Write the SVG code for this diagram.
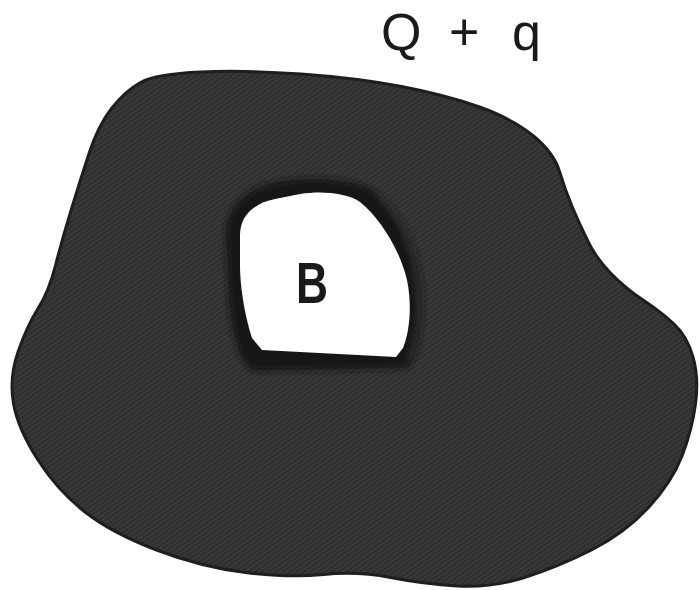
<svg xmlns="http://www.w3.org/2000/svg" width="700" height="590" viewBox="0 0 700 590">
<style>
.lbl{font-family:"Liberation Sans","DejaVu Sans",Arial,sans-serif;fill:#1a1a1a}
</style>
<defs>
<pattern id="tex" width="4" height="4" patternUnits="userSpaceOnUse" patternTransform="rotate(55)">
<rect width="4" height="4" fill="#2f2f2f"/>
<rect width="1.4" height="4" fill="#3c3c3c"/>
</pattern>
<filter id="soft" x="-20%" y="-20%" width="140%" height="140%">
<feGaussianBlur stdDeviation="3"/>
</filter>
</defs>
<rect width="700" height="590" fill="#ffffff"/>
<g id="conductor">
<path d="M 111.5,108.5 Q 125,91 140.5,82.5 Q 156,74 200.5,72 Q 245,70 301,74 Q 357,78 401.5,86.5 Q 446,95 479.5,107 Q 513,119 533.5,136 Q 554,153 559.5,171.5 Q 565,190 572.5,207.5 Q 580,225 588,241.5 Q 596,258 610.5,273 Q 625,288 643,300 Q 661,312 674,324 Q 687,336 693,357 Q 699,378 695.5,404 Q 692,430 682,456 Q 672,482 648.5,507.5 Q 625,533 591.5,550 Q 558,567 524.5,577.5 Q 491,588 457.5,586 Q 424,584 390.5,577.5 Q 357,571 323.5,574.5 Q 290,578 245.5,572.5 Q 201,567 156.5,550 Q 112,533 85,512 Q 58,491 38,460 Q 18,429 13.5,403.5 Q 9,378 18,352 Q 27,326 38,308.5 Q 49,291 55.5,265.5 Q 62,240 71,210.5 Q 80,181 89,153.5 Q 98,126 111.5,108.5 Z" fill="url(#tex)" stroke="#1e1e1e" stroke-width="3"/>
</g>
<g id="cavity">
<path d="M 226,235 C 226,205 248,188 278,182 C 312,176 350,178 372,190 C 402,210 418,250 421,285 C 424,318 421,348 409,368 L 252,371 C 238,360 233,335 229,300 Z" fill="#141414" filter="url(#soft)"/>
<path d="M 378,196 C 402,218 416,252 418,290 C 420,320 416,345 408,360" fill="none" stroke="#4a4a4a" stroke-width="2" filter="url(#soft)"/>
<path d="M 240,235 C 240,215 255,203 275,199 L 300,194 C 320,191 345,192 360,202 C 380,218 400,250 407,280 C 412,305 410,330 403,348 L 396,357 L 262,350 L 252,338 C 246,320 240,290 240,265 Z" fill="#ffffff"/>
<text class="lbl" x="312" y="303" font-size="58" font-weight="bold" text-anchor="middle" textLength="32" lengthAdjust="spacingAndGlyphs">B</text>
</g>
<g id="charge-label">
<text class="lbl" x="381 425 449 478 512" y="50" font-size="52">Q + q</text>
</g>
<g id="connectors"/>
</svg>
